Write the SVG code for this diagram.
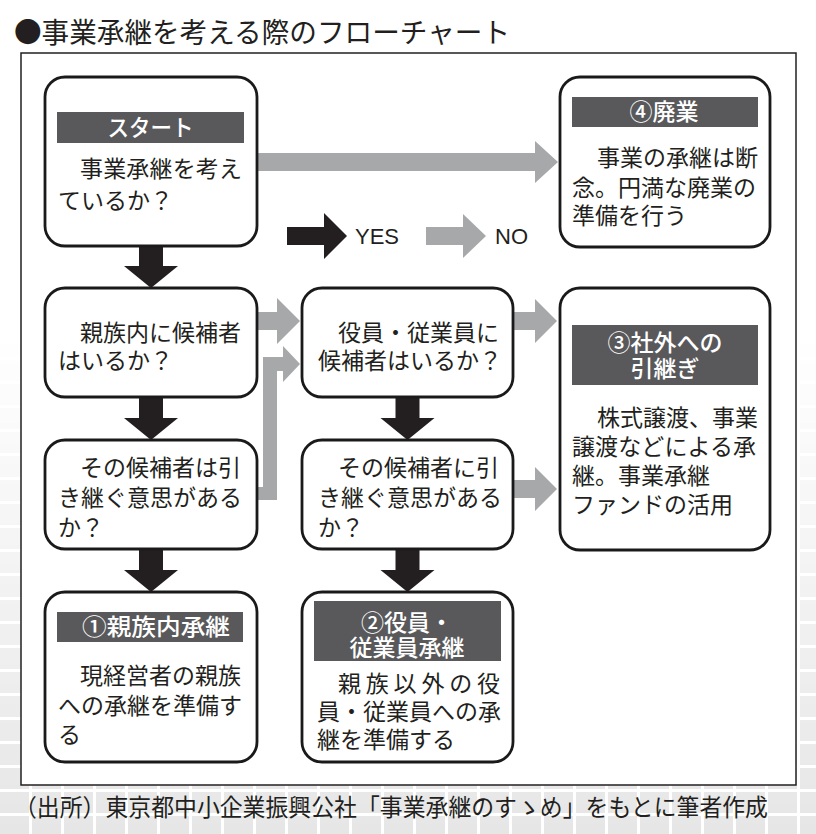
<svg xmlns="http://www.w3.org/2000/svg" width="816" height="834" viewBox="0 0 816 834">
<defs>
<style>
.box{fill:#fff;stroke:#1a1a1a;stroke-width:2.8}
.ban{fill:#59595b}
.jp{font-family:"Noto Sans CJK JP","Noto Sans",sans-serif;font-size:23px;fill:#231f20}
.bt{font-family:"Noto Sans CJK JP","Noto Sans",sans-serif;font-size:23px;font-weight:500;fill:#fff;text-anchor:middle}
.gray{fill:#a7a8aa}
.blk{fill:#231f20}
.lg{font-family:"Liberation Sans",Arial,sans-serif;font-size:22px;fill:#231f20}
</style>
<pattern id="tiles" width="32" height="24" patternUnits="userSpaceOnUse">
<rect width="32" height="24" fill="#fff"/>
<rect x="0" y="0" width="29" height="21" fill="#e6e6e6"/>
</pattern>
<linearGradient id="fade" x1="0" y1="0" x2="0" y2="1">
<stop offset="0" stop-color="#fff" stop-opacity="0"/>
<stop offset="0.4" stop-color="#fff" stop-opacity="0"/>
<stop offset="1" stop-color="#fff" stop-opacity="1"/>
</linearGradient>
<mask id="m"><rect width="816" height="834" fill="url(#fade)"/></mask>
</defs>
<rect width="816" height="834" fill="#fff"/>
<rect width="816" height="834" fill="url(#tiles)" mask="url(#m)"/>
<text x="14" y="43" font-family="Noto Sans CJK JP, sans-serif" font-size="28" fill="#231f20" textLength="496" lengthAdjust="spacingAndGlyphs">●事業承継を考える際のフローチャート</text>
<rect x="21" y="53" width="775" height="732" fill="#fff" stroke="#231f20" stroke-width="1.5"/>

<g id="connectors">
<path class="gray" d="M257,153 H535 V141 L558,162 L535,183 V171 H257 Z"/>
<path class="gray" d="M257,312 H277 V298 L300,321 L277,344 V330 H257 Z"/>
<path class="gray" d="M257,487 H263 V357 H283 V346 L300,364 L283,382 V371 H277 V500 H257 Z"/>
<path class="gray" d="M513,312 H535 V299 L557,321 L535,343 V330 H513 Z"/>
<path class="gray" d="M513,480 H535 V467 L557,489 L535,511 V498 H513 Z"/>
<path class="blk" d="M139,246 H163 V266 H178 L151,288 L124,266 H139 Z"/>
<path class="blk" d="M139,397 H163 V418 H178 L151,440 L124,418 H139 Z"/>
<path class="blk" d="M139,549 H163 V570 H178 L151,592 L124,570 H139 Z"/>
<path class="blk" d="M395.5,397 H419.5 V418 H434.5 L407.5,440 L380.5,418 H395.5 Z"/>
<path class="blk" d="M395.5,549 H419.5 V570 H434.5 L407.5,592 L380.5,570 H395.5 Z"/>
</g>

<g id="legend">
<path class="blk" d="M287,227 H324 V213 L347,236 L324,259 V245 H287 Z"/>
<text class="lg" x="355" y="244">YES</text>
<path class="gray" d="M426,227 H463 V214 L486,236 L463,258 V245 H426 Z"/>
<text class="lg" x="495" y="244">NO</text>
</g>

<g id="start">
<rect class="box" x="45" y="77" width="212" height="169" rx="20"/>
<rect class="ban" x="57" y="112" width="187" height="31"/>
<text class="bt" x="150.5" y="136" textLength="86" lengthAdjust="spacingAndGlyphs">スタート</text>
<text class="jp" x="80" y="177" textLength="162">事業承継を考え</text>
<text class="jp" x="58" y="209" textLength="115">ているか？</text>
</g>

<g id="haigyo">
<rect class="box" x="560" y="77" width="210" height="170" rx="20"/>
<rect class="ban" x="572" y="97" width="186" height="30"/>
<text class="bt" x="664" y="120">④廃業</text>
<text class="jp" x="597" y="166" textLength="161">事業の承継は断</text>
<text class="jp" x="572" y="196" textLength="184">念。円満な廃業の</text>
<text class="jp" x="572" y="224" textLength="115">準備を行う</text>
</g>

<g id="shinzoku-q">
<rect class="box" x="45" y="288" width="212" height="109" rx="20"/>
<text class="jp" x="80" y="341" textLength="161">親族内に候補者</text>
<text class="jp" x="58" y="369" textLength="115">はいるか？</text>
</g>

<g id="yakuin-q">
<rect class="box" x="302" y="288" width="211" height="109" rx="20"/>
<text class="jp" x="338" y="341" textLength="161">役員・従業員に</text>
<text class="jp" x="318" y="369" textLength="184">候補者はいるか？</text>
</g>

<g id="ishi-left">
<rect class="box" x="45" y="440" width="212" height="109" rx="20"/>
<text class="jp" x="80" y="476" textLength="161">その候補者は引</text>
<text class="jp" x="58" y="506" textLength="184">き継ぐ意思がある</text>
<text class="jp" x="58" y="536">か？</text>
</g>

<g id="ishi-right">
<rect class="box" x="302" y="440" width="211" height="109" rx="20"/>
<text class="jp" x="338" y="476" textLength="161">その候補者に引</text>
<text class="jp" x="318" y="506" textLength="184">き継ぐ意思がある</text>
<text class="jp" x="318" y="536">か？</text>
</g>

<g id="shagai">
<rect class="box" x="560" y="288" width="210" height="262" rx="20"/>
<rect class="ban" x="572" y="325" width="186" height="60"/>
<text class="bt" x="665" y="351">③社外への</text>
<text class="bt" x="665" y="377">引継ぎ</text>
<text class="jp" x="597" y="426" textLength="161">株式譲渡、事業</text>
<text class="jp" x="572" y="455" textLength="184">譲渡などによる承</text>
<text class="jp" x="572" y="484" textLength="138">継。事業承継</text>
<text class="jp" x="572" y="513" textLength="161">ファンドの活用</text>
</g>

<g id="shinzoku-nai">
<rect class="box" x="45" y="592" width="212" height="170" rx="20"/>
<rect class="ban" x="57" y="612" width="186" height="30"/>
<text class="bt" x="156" y="635" textLength="148" lengthAdjust="spacingAndGlyphs">①親族内承継</text>
<text class="jp" x="80" y="684" textLength="161">現経営者の親族</text>
<text class="jp" x="58" y="714" textLength="184">への承継を準備す</text>
<text class="jp" x="58" y="743">る</text>
</g>

<g id="yakuin-shokei">
<rect class="box" x="302" y="592" width="211" height="170" rx="20"/>
<rect class="ban" x="314" y="601" width="187" height="60"/>
<text class="bt" x="407" y="631">②役員・</text>
<text class="bt" x="407" y="656">従業員承継</text>
<text class="jp" x="338" y="692" textLength="162">親族以外の役</text>
<text class="jp" x="317" y="720" textLength="184">員・従業員への承</text>
<text class="jp" x="317" y="748" textLength="138">継を準備する</text>
</g>

<text x="14" y="816" font-family="Noto Sans CJK JP, sans-serif" font-size="24" fill="#231f20" textLength="754" lengthAdjust="spacingAndGlyphs">（出所）東京都中小企業振興公社「事業承継のすゝめ」をもとに筆者作成</text>
</svg>
